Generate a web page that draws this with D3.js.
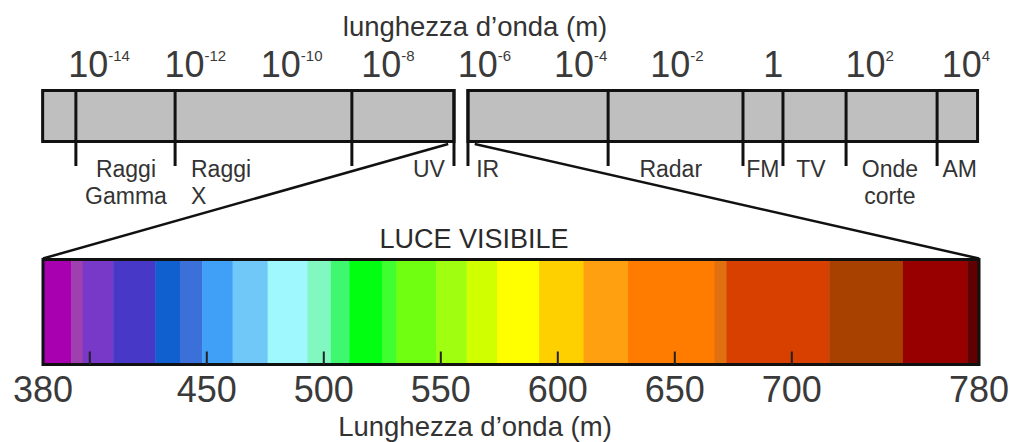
<!DOCTYPE html>
<html>
<head>
<meta charset="utf-8">
<script src="https://cdn.jsdelivr.net/npm/d3@7"></script>
<style>
  html, body { margin: 0; padding: 0; background: #fff; }
  svg { display: block; font-family: "Liberation Sans", Arial, sans-serif; }
</style>
</head>
<body>
<svg id="chart" width="1010" height="442"></svg>
<script>
// ---- data ----
const expTicks = [-14, -12, -10, -8, -6, -4, -2, 0, 2, 4];
const barSegments = [[-15.17, -6.63], [-6.34, 4.24]];
const dividers = [-14.48, -12.42, -8.75, -3.43, -0.63, 0.20, 1.51, 3.40];
const barEdgeTicks = [-6.63, -6.34];
const bandNames = [["Raggi", "Gamma"], ["Raggi", "X"], ["UV"], ["IR"], ["Radar"], ["FM"], ["TV"], ["Onde", "corte"], ["AM"]];
const bandPos = [-13.44, -12.09, -6.82, -6.17, -2.13, -0.22, 0.78, 2.42, 3.87];
const bandAnchor = ["middle", "start", "end", "start", "middle", "middle", "middle", "middle", "middle"];
const specStops = [380, 392, 397, 410, 428, 438.5, 448, 461, 476, 493, 503, 511, 525, 531, 548, 561, 574, 592, 611, 630, 667, 672, 716, 747.5, 775, 780];
const specColors = ["#a800b0", "#a040b0", "#7838c8", "#4838c8", "#1060d0", "#3a70d8", "#40a0f8", "#70c8f8", "#a0f8ff", "#80f8c0", "#40f870", "#00ff10", "#40ff30", "#70ff10", "#a0ff10", "#d0ff00", "#ffff00", "#ffd000", "#ffa010", "#ff7c00", "#e07010", "#d84000", "#a84000", "#980000", "#600000"];
const nmTicks = [400, 450, 500, 550, 600, 650, 700];
const nmLabels = [380, 450, 500, 550, 600, 650, 700, 780];
const topTitle = "lunghezza d\u2019onda (m)";
const visTitle = "LUCE VISIBILE";
const bottomTitle = "Lunghezza d\u2019onda (m)";

// ---- scales ----
const svg = d3.select("#chart");
const xExp = d3.scaleLinear().domain([-14, 4]).range([99, 966]);
const xNm = d3.scaleLinear().domain([380, 780]).range([43, 979]);

const barTop = 90.5, barBot = 141.5, tickBot = 166;
const specTop = 259.5, specBot = 364.5;
const txt = "#333";

// top title
svg.append("text").attr("x", 475).attr("y", 36).attr("text-anchor", "middle")
  .attr("font-size", 27.5).attr("fill", txt).text(topTitle);

// exponent labels
const expG = svg.append("g");
expTicks.forEach(e => {
  const t = expG.append("text").attr("x", xExp(e)).attr("y", 77)
    .attr("text-anchor", "middle").attr("fill", "#3a3a3a").attr("font-size", 36);
  if (e === 0) { t.text("1"); return; }
  t.append("tspan").text("10");
  t.append("tspan").attr("font-size", 15).attr("dy", -16).text(e < 0 ? "-" + (-e) : String(e));
});

// bars
svg.selectAll("rect.bar").data(barSegments).join("rect").attr("class", "bar")
  .attr("x", d => xExp(d[0])).attr("y", barTop)
  .attr("width", d => xExp(d[1]) - xExp(d[0])).attr("height", barBot - barTop)
  .attr("fill", "#bfbfbf").attr("stroke", "#111").attr("stroke-width", 3);

// dividers
svg.selectAll("line.div").data(dividers.concat(barEdgeTicks)).join("line").attr("class", "div")
  .attr("x1", d => xExp(d)).attr("x2", d => xExp(d))
  .attr("y1", barTop - 1.5).attr("y2", tickBot)
  .attr("stroke", "#111").attr("stroke-width", 3);

// band labels
bandNames.forEach((lines, i) => {
  const t = svg.append("text").attr("x", xExp(bandPos[i])).attr("y", 177)
    .attr("text-anchor", bandAnchor[i]).attr("font-size", 23).attr("fill", txt);
  lines.forEach((l, j) => {
    t.append("tspan").attr("x", xExp(bandPos[i])).attr("dy", j === 0 ? 0 : 27).text(l);
  });
});

// connecting lines
svg.append("line").attr("x1", xExp(-6.75)).attr("y1", barBot + 2.5)
  .attr("x2", xNm(380)).attr("y2", specTop - 1)
  .attr("stroke", "#111").attr("stroke-width", 2.5);
svg.append("line").attr("x1", xExp(-6.2)).attr("y1", barBot + 2.5)
  .attr("x2", xNm(780)).attr("y2", specTop - 1)
  .attr("stroke", "#111").attr("stroke-width", 2.5);

// LUCE VISIBILE
svg.append("text").attr("x", 474).attr("y", 248).attr("text-anchor", "middle")
  .attr("font-size", 27).attr("fill", "#2a2a2a").text(visTitle);

// spectrum stripes
svg.selectAll("rect.stripe").data(specColors).join("rect").attr("class", "stripe")
  .attr("x", (d, i) => xNm(specStops[i]))
  .attr("width", (d, i) => xNm(specStops[i + 1]) - xNm(specStops[i]) + 0.5)
  .attr("y", specTop).attr("height", specBot - specTop)
  .attr("fill", d => d);

svg.append("rect").attr("x", xNm(380)).attr("y", specTop)
  .attr("width", xNm(780) - xNm(380)).attr("height", specBot - specTop)
  .attr("fill", "none").attr("stroke", "#111").attr("stroke-width", 3);

// nm ticks
svg.selectAll("line.nm").data(nmTicks).join("line").attr("class", "nm")
  .attr("x1", d => xNm(d)).attr("x2", d => xNm(d))
  .attr("y1", specBot).attr("y2", specBot - 13)
  .attr("stroke", "#222").attr("stroke-width", 2);

// nm labels
svg.selectAll("text.nml").data(nmLabels).join("text").attr("class", "nml")
  .attr("x", d => xNm(d)).attr("y", 402).attr("text-anchor", "middle")
  .attr("font-size", 36).attr("fill", "#3a3a3a").text(d => d);

// bottom title
svg.append("text").attr("x", 475).attr("y", 436).attr("text-anchor", "middle")
  .attr("font-size", 27.5).attr("fill", txt).text(bottomTitle);
</script>
</body>
</html>
